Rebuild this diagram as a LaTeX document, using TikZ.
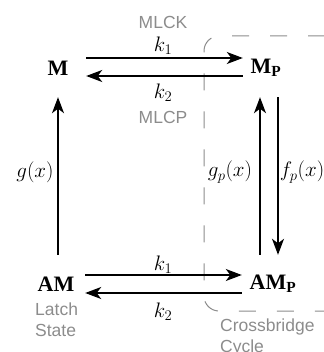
\documentclass[tikz,border=0pt]{standalone}
\usepackage{fix-cm}
\usepackage{fontspec}
\setmainfont{Liberation Serif}
\newfontfamily\lblfont{Liberation Sans}
\usepackage{tikz}
\usetikzlibrary{arrows.meta}
\definecolor{cCinza}{HTML}{8C8C8C}

\begin{document}
\begin{tikzpicture}[
  x=1pt,y=-1pt,font=\fontsize{21}{24}\selectfont,
  st/.style={font=\fontsize{22}{24}\selectfont\bfseries,inner sep=0pt,minimum height=58pt},
  ar/.style={-{Stealth[length=16pt,width=12pt,inset=4.5pt]},line width=1.5pt},
  rate/.style={inner sep=0pt},
  lbl/.style={font=\fontsize{17.5}{21}\selectfont\lblfont,text=cCinza,inner sep=0pt,align=left},
  cyc/.style={draw=cCinza,line width=1pt,dash pattern=on 17pt off 21pt,dash phase=18pt,rounded corners=15pt}
]
\useasboundingbox (0,0) rectangle (323,352);

% ---- ciclo das pontes cruzadas
\draw[cyc] (345,36) -- (204,36) -- (204,311) -- (345,311);

% ---- estados
\node[st,minimum width=56pt] (m)   at (58,68)   {M};
\node[st,minimum width=46pt] (mp)  at (266,68)  {M\textsubscript{P}};
\node[st,minimum width=58pt] (am)  at (56,284)  {AM};
\node[st,minimum width=62pt] (amp) at (273,284) {AM\textsubscript{P}};

% ---- taxas
\node[rate] (k1t) at (163,46)  {$k_1$};
\node[rate] (k2t) at (163,93)  {$k_2$};
\node[rate] (k1b) at (163,265) {$k_1$};
\node[rate] (k2b) at (163,312) {$k_2$};
\node[rate] (g)   at (35,172)  {$g(x)$};
\node[rate] (gp)  at (230,172) {$g_p(x)$};
\node[rate] (fp)  at (302,172) {$f_p(x)$};

% ---- rotulos
\node[lbl] (mlck) at (163,22)  {MLCK};
\node[lbl] (mlcp) at (163,117) {MLCP};
\node[lbl,anchor=north west] (latch) at (35,303)  {Latch\\State};
\node[lbl,anchor=north west] (cross) at (220,319) {Crossbridge\\Cycle};

% ---- setas
\draw[ar] ([yshift=10pt]m.east) -- ([yshift=10pt]m.east -| mp.west);
\draw[ar] ([yshift=-8pt]mp.west) -- ([yshift=-8pt]mp.west -| m.east);
\draw[ar] ([yshift=9pt]am.east) -- ([yshift=9pt]am.east -| amp.west);
\draw[ar] ([yshift=-9pt]amp.west) -- ([yshift=-9pt]amp.west -| am.east);
\draw[ar] (am.north -| m.south) -- (m.south);
\draw[ar] ([xshift=-6pt]mp.south |- amp.north) -- ([xshift=-6pt]mp.south);
\draw[ar] ([xshift=12pt]mp.south) -- ([xshift=12pt]mp.south |- amp.north);
\end{tikzpicture}
\end{document}
